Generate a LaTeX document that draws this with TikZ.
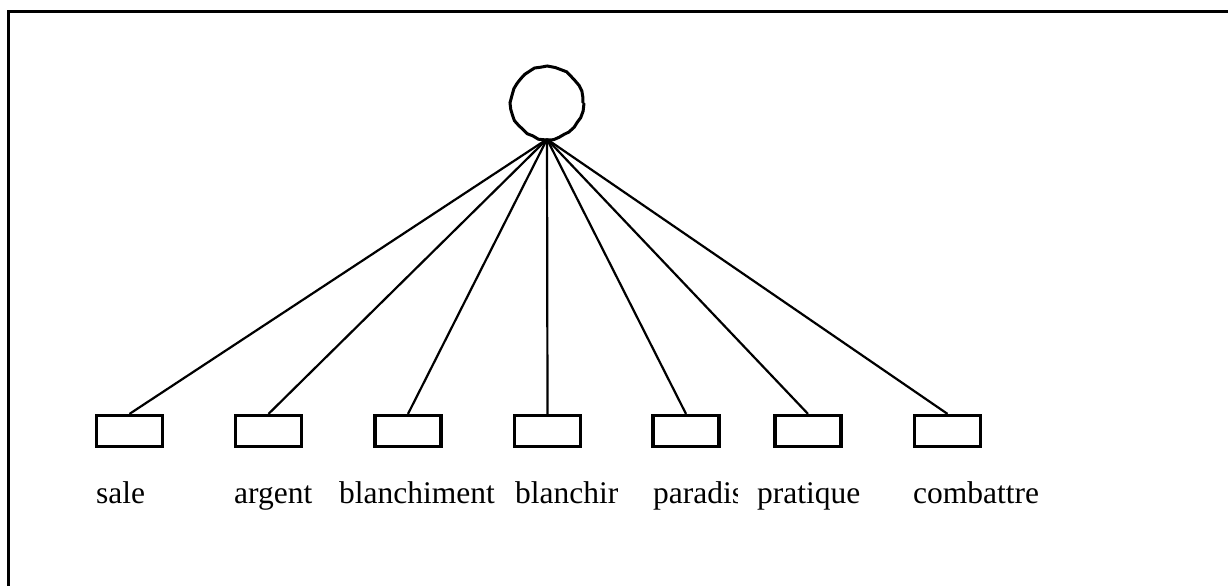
\documentclass[tikz,border=0pt]{standalone}
\usepackage{fontspec}
\setmainfont{Liberation Serif}
\usetikzlibrary{decorations.pathmorphing}
\begin{document}
\begin{tikzpicture}[x=1pt,y=-1pt,
  wordbox/.style={draw,line width=3.2pt,minimum width=66pt,minimum height=31pt,inner sep=0pt},
  topic/.style={circle,minimum size=72pt,inner sep=0pt},
  link/.style={line width=2.2pt},
  word/.style={anchor=base west,inner sep=0pt,font=\fontsize{31.5}{36}\selectfont}]
\useasboundingbox (0,0) rectangle (1228,586);
\draw[line width=3.6pt] (1228,11.5) -- (8.5,11.5) -- (8.5,586);
\node[topic] (c) at (547,103) {};
\pgfmathsetseed{7}
\draw[line width=3pt,decorate,decoration={random steps,segment length=6pt,amplitude=0.8pt}] (c.center) circle[radius=36pt];
\node[wordbox] (b1) at (129.5,431) {};
\node[wordbox] (b2) at (268.5,431) {};
\node[wordbox] (b3) at (408,431) {};
\node[wordbox] (b4) at (547.5,431) {};
\node[wordbox] (b5) at (686,431) {};
\node[wordbox] (b6) at (808,431) {};
\node[wordbox] (b7) at (947.5,431) {};
\foreach \i in {1,...,7}{\draw[link] (c.south) -- (b\i.north);}
\node[word] (l1) at (96,503) {sale};
\node[word] (l2) at (234,503) {argent};
\node[word] (l3) at (339,503) {blanchiment};
\node[word] (l4) at (515,503) {blanchir};
\begin{scope}
\clip (640,460) rectangle (737,520);
\node[word] (l5) at (653,503) {paradis};
\end{scope}
\node[word] (l6) at (757,503) {pratique};
\node[word] (l7) at (913,503) {combattre};
\end{tikzpicture}
\end{document}
